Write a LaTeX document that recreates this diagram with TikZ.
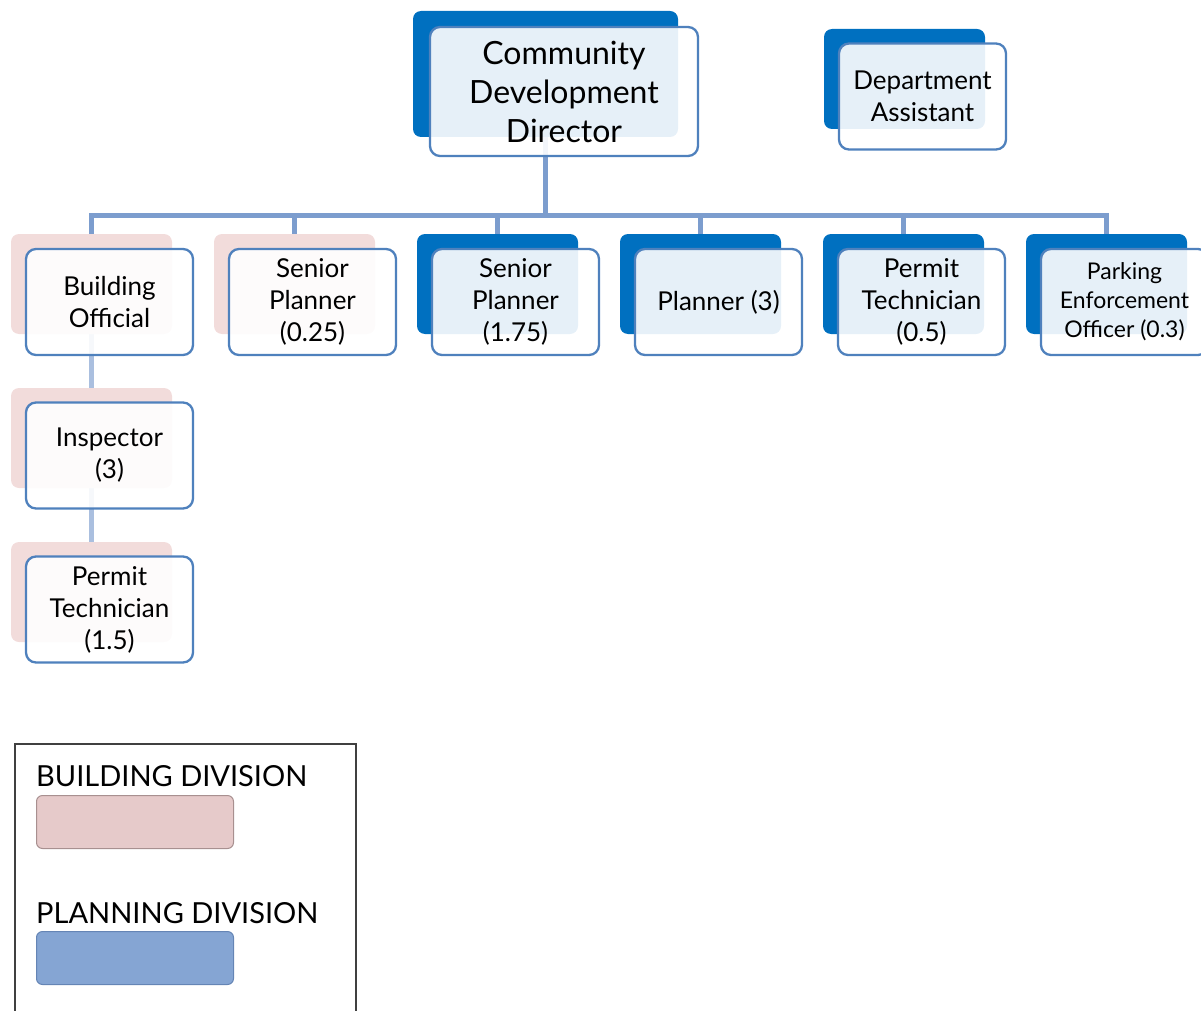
\documentclass[tikz,border=0pt]{standalone}
\usepackage{fontspec}
\setmainfont{Lato}
\usetikzlibrary{positioning,backgrounds}

\definecolor{bluedark}{RGB}{0,112,192}
\definecolor{pinkbg}{RGB}{242,220,219}
\definecolor{frameblue}{RGB}{79,129,189}
\definecolor{linkblue}{RGB}{124,157,206}
\definecolor{legpink}{RGB}{230,202,202}
\definecolor{legpinkline}{RGB}{168,144,144}
\definecolor{legblue}{RGB}{133,165,211}
\definecolor{legblueline}{RGB}{101,133,181}

\begin{document}
\begin{tikzpicture}[x=1pt,y=-1pt,
  backbox/.style={rectangle, rounded corners=8pt, minimum width=161pt, minimum height=100pt, inner sep=0pt},
  plan/.style={backbox, fill=bluedark},
  build/.style={backbox, fill=pinkbg},
  card/.style={draw=frameblue, line width=2.3pt, fill=white, fill opacity=0.9, text opacity=1,
    rounded corners=10pt, minimum width=167pt, minimum height=106pt, align=center, inner sep=2pt,
    font=\fontsize{26}{32}\selectfont},
  link/.style={draw=linkblue, line width=5pt},
  sublink/.style={draw=linkblue!65, line width=5pt},
  legtext/.style={font=\fontsize{29}{35}\selectfont, inner sep=0pt},
  swatch/.style={rectangle, rounded corners=6pt, line width=1pt, minimum width=197pt, minimum height=53pt, inner sep=0pt}
]
  \useasboundingbox (0,0) rectangle (1201,1011);
  \clip (0,0) rectangle (1201,1011);

  % top level
  \node[plan, minimum width=265pt, minimum height=126pt] (dir-b) at (545.5,74) {};
  \node[card, minimum width=268pt, minimum height=129pt, font=\fontsize{32}{39}\selectfont] (dir) at (564,91.5) {Community\\Development\\Director};
  \node[plan] (da-b) at (904.5,79) {};
  \node[card] (da) at (922.5,96.5) {Department\\Assistant};

  % second row
  \node[build] (bo-b) at (91.5,284) {};
  \node[card] (bo) at (109.5,302) {Building\\Official};
  \node[build] (sp1-b) at (294.5,284) {};
  \node[card] (sp1) at (312.5,302) {Senior\\Planner\\(0.25)};
  \node[plan] (sp2-b) at (497.5,284) {};
  \node[card] (sp2) at (515.5,302) {Senior\\Planner\\(1.75)};
  \node[plan] (pl-b) at (700.5,284) {};
  \node[card] (pl) at (718.5,302) {Planner (3)};
  \node[plan] (pt-b) at (903.5,284) {};
  \node[card] (pt) at (921.5,302) {Permit\\Technician\\(0.5)};
  \node[plan] (peo-b) at (1106.5,284) {};
  \node[card, font=\fontsize{23}{29}\selectfont] (peo) at (1124.5,302) {Parking\\Enforcement\\Officer (0.3)};

  % building column
  \node[build] (ins-b) at (91.5,438) {};
  \node[card] (ins) at (109.5,455.5) {Inspector\\(3)};
  \node[build] (ptb-b) at (91.5,592) {};
  \node[card] (ptb) at (109.5,609.5) {Permit\\Technician\\(1.5)};

  \begin{scope}[on background layer]
    \foreach \n in {bo,sp1,sp2,pl,pt,peo}
      \draw[link] (dir-b.south) -- ++(0,78) -| (\n-b.north);
    \draw[sublink] (bo-b.south) -- (ins-b.north);
    \draw[sublink] (ins-b.south) -- (ptb-b.north);
  \end{scope}

  % legend
  \draw[black!75, line width=1.3pt] (15,744) rectangle (356,1030);
  \node[legtext, anchor=base west] (bd-txt) at (36,786) {BUILDING DIVISION};
  \node[swatch, fill=legpink, draw=legpinkline, anchor=north west] (bd-sw) at (36,795) {};
  \node[legtext, anchor=base west] (pd-txt) at (36,923) {PLANNING DIVISION};
  \node[swatch, fill=legblue, draw=legblueline, anchor=north west] (pd-sw) at (36,931) {};
\end{tikzpicture}
\end{document}
